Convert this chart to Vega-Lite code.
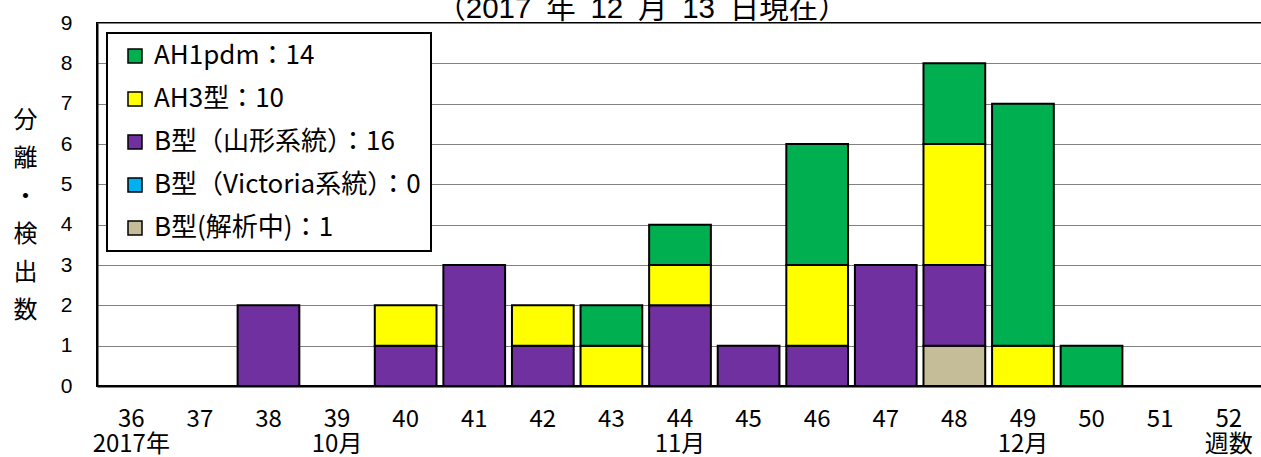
{
  "$schema": "https://vega.github.io/schema/vega-lite/v6.json",
  "width": 1166,
  "height": 363,
  "autosize": {"type": "none"},
  "padding": {"left": 97, "top": 23, "right": 0, "bottom": 71},
  "background": "white",
  "title": {
    "text": "（2017\u2002年\u200212\u2002月\u200213\u2002日現在）",
    "font": "'Liberation Sans', 'Noto Sans CJK JP'",
    "fontSize": 29.5,
    "fontWeight": "normal",
    "color": "#000",
    "anchor": "middle",
    "frame": "group",
    "baseline": "alphabetic",
    "offset": 0,
    "dx": -38,
    "dy": 35
  },
  "data": {
    "values": [
      {"week": "38", "type": "B型（山形系統）：16", "count": 2, "n": 2},
      {"week": "40", "type": "B型（山形系統）：16", "count": 1, "n": 2},
      {"week": "40", "type": "AH3型：10", "count": 1, "n": 3},
      {"week": "41", "type": "B型（山形系統）：16", "count": 3, "n": 2},
      {"week": "42", "type": "B型（山形系統）：16", "count": 1, "n": 2},
      {"week": "42", "type": "AH3型：10", "count": 1, "n": 3},
      {"week": "43", "type": "AH3型：10", "count": 1, "n": 3},
      {"week": "43", "type": "AH1pdm：14", "count": 1, "n": 4},
      {"week": "44", "type": "B型（山形系統）：16", "count": 2, "n": 2},
      {"week": "44", "type": "AH3型：10", "count": 1, "n": 3},
      {"week": "44", "type": "AH1pdm：14", "count": 1, "n": 4},
      {"week": "45", "type": "B型（山形系統）：16", "count": 1, "n": 2},
      {"week": "46", "type": "B型（山形系統）：16", "count": 1, "n": 2},
      {"week": "46", "type": "AH3型：10", "count": 2, "n": 3},
      {"week": "46", "type": "AH1pdm：14", "count": 3, "n": 4},
      {"week": "47", "type": "B型（山形系統）：16", "count": 3, "n": 2},
      {"week": "48", "type": "B型(解析中)：1", "count": 1, "n": 1},
      {"week": "48", "type": "B型（山形系統）：16", "count": 2, "n": 2},
      {"week": "48", "type": "AH3型：10", "count": 3, "n": 3},
      {"week": "48", "type": "AH1pdm：14", "count": 2, "n": 4},
      {"week": "49", "type": "AH3型：10", "count": 1, "n": 3},
      {"week": "49", "type": "AH1pdm：14", "count": 6, "n": 4},
      {"week": "50", "type": "AH1pdm：14", "count": 1, "n": 4}
    ]
  },
  "mark": {"type": "bar", "stroke": "#000", "strokeWidth": 2},
  "encoding": {
    "x": {
      "field": "week",
      "type": "ordinal",
      "scale": {
        "domain": ["36","37","38","39","40","41","42","43","44","45","46","47","48","49","50","51","52"],
        "paddingInner": 0.1,
        "paddingOuter": 0.05
      },
      "axis": {
        "title": null,
        "labelAngle": 0,
        "labelFont": "'Liberation Sans Narrow', 'Noto Sans CJK JP'",
        "labelFontSize": 24,
        "labelColor": "#000",
        "labelPadding": 21,
        "labelLineHeight": 25,
        "labelBaseline": "top",
        "labelOverlap": false,
        "ticks": false,
        "domainColor": "#000",
        "domainWidth": 2,
        "labelExpr": "[datum.label, datum.label == '36' ? '2017年' : datum.label == '39' ? '10月' : datum.label == '44' ? '11月' : datum.label == '49' ? '12月' : datum.label == '52' ? '週数' : '']"
      }
    },
    "y": {
      "field": "count",
      "type": "quantitative",
      "aggregate": "sum",
      "stack": "zero",
      "scale": {"domain": [0, 9], "nice": false},
      "axis": {
        "values": [0,1,2,3,4,5,6,7,8,9],
        "title": ["分", "離", "・", "検", "出", "数"],
        "titleAngle": 0,
        "titleFont": "'Noto Sans CJK JP'",
        "titleFontSize": 24,
        "titleFontWeight": "normal",
        "titleColor": "#000",
        "titleLineHeight": 38,
        "titleAlign": "center",
        "titleBaseline": "middle",
        "titleX": -72,
        "titleY": 97,
        "labelFont": "'Liberation Sans'",
        "labelFontSize": 21,
        "labelColor": "#000",
        "labelPadding": 25,
        "ticks": false,
        "domainColor": "#000",
        "domainWidth": 2,
        "grid": true,
        "gridColor": "#808080",
        "gridWidth": 1
      }
    },
    "color": {
      "field": "type",
      "type": "nominal",
      "scale": {
        "domain": ["AH1pdm：14", "AH3型：10", "B型（山形系統）：16", "B型（Victoria系統）：0", "B型(解析中)：1"],
        "range": ["#00B050", "#FFFF00", "#7030A0", "#00B0F0", "#C4BD97"]
      },
      "legend": {
        "title": null,
        "orient": "top-left",
        "offset": 10,
        "fillColor": "white",
        "strokeColor": "#000",
        "padding": 10,
        "rowPadding": 17,
        "symbolType": "square",
        "symbolSize": 196,
        "symbolOffset": 5,
        "symbolStrokeColor": "#000",
        "symbolStrokeWidth": 1.5,
        "symbolOpacity": 1,
        "labelFont": "'Noto Sans CJK JP'",
        "labelFontSize": 26,
        "labelColor": "#000",
        "labelOffset": 6,
        "labelLimit": 400,
        "encode": {"legend": {"update": {"strokeWidth": {"value": 2}}}}
      }
    },
    "order": {"field": "n", "type": "quantitative"}
  },
  "config": {
    "view": {"stroke": "#000", "strokeWidth": 2}
  }
}
